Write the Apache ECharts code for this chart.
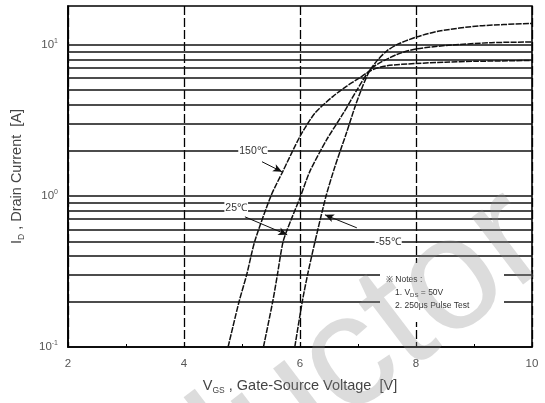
<!DOCTYPE html>
<html><head><meta charset="utf-8">
<script src="https://cdn.jsdelivr.net/npm/echarts/dist/echarts.min.js"></script>
<style>html,body{margin:0;padding:0;background:#fff;}#c{width:545px;height:403px;}</style>
</head><body><div id="c"></div>
<script>
// x ticks (V) and horizontal grid levels (A)
const xTicks = [2, 4, 6, 8, 10];
const gridLevels = [0.2,0.3,0.4,0.5,0.6,0.7,0.8,0.9,1,2,3,4,5,6,7,8,9,10];

// 150 C curve
const vgs150 = [4.76, 4.95, 5.08, 5.22, 5.5, 5.7, 6.0, 6.26, 6.57, 6.8, 7.02, 7.24, 7.5, 8.0, 8.5, 9.0, 10];
const id150  = [0.1, 0.2, 0.3, 0.5, 1.0, 1.44, 2.47, 3.53, 4.55, 5.3, 6.0, 6.8, 7.25, 7.5, 7.65, 7.75, 7.85];
// 25 C curve
const vgs25 = [5.37, 5.53, 5.61, 5.71, 5.85, 6.0, 6.17, 6.46, 6.75, 6.98, 7.24, 7.67, 8.0, 8.5, 9.3, 10];
const id25  = [0.1, 0.2, 0.3, 0.5, 0.7, 0.97, 1.45, 2.35, 3.53, 5.0, 7.0, 8.6, 9.35, 9.85, 10.3, 10.4];
// -55 C curve
const vgs55 = [5.91, 6.04, 6.13, 6.26, 6.45, 6.6, 6.8, 6.95, 7.08, 7.2, 7.35, 7.5, 7.67, 8.0, 8.4, 9.1, 10];
const id55  = [0.1, 0.2, 0.3, 0.5, 1.0, 1.55, 2.6, 3.9, 5.3, 6.7, 8.0, 9.1, 10.0, 11.2, 12.3, 13.3, 13.8];

const curveNames = ['150℃', '25℃', '-55℃'];

const FONT = 'Liberation Sans, Arial, sans-serif';
const curveStyle = {color:'#111', width:1.5, type:[6,1.2]};
function curve(name, xs, ys){
  return {name, type:'line', data: xs.map((x,k)=>[x, ys[k]]), smooth:0.25,
    symbol:'none', lineStyle: curveStyle, z:4, silent:true};
}

const chart = echarts.init(document.getElementById('c'), null, {renderer:'canvas'});
const option = {
  backgroundColor:'#fff',
  animation:false,
  grid:{left:68, right:13, top:6, bottom:56, show:true, borderColor:'#000', borderWidth:1.6, backgroundColor:'transparent'},
  xAxis:{
    type:'value', min:2, max:10, interval:2,
    axisLine:{show:true, lineStyle:{color:'#000', width:1.6}},
    axisTick:{show:false, inside:true},
    minorTick:{show:true, splitNumber:2, length:3, lineStyle:{color:'#000', width:1}},
    axisLabel:{color:'#555', fontSize:11.5, fontFamily:FONT, margin:11},
    splitLine:{show:true, lineStyle:{color:'#000', width:1.3, type:[9,3]}},
    name:'{n|V}{s|GS}{n| , Gate-Source Voltage  [V]}',
    nameLocation:'middle', nameGap:30,
    nameTextStyle:{fontFamily:FONT, color:'#444', rich:{
      n:{fontSize:14.5, color:'#444', fontFamily:FONT},
      s:{fontSize:8.5, color:'#444', fontFamily:FONT, padding:[9,0,0,0]}}}
  },
  yAxis:{
    type:'log', logBase:10, min:0.1, max:18,
    axisLine:{show:true, lineStyle:{color:'#000', width:1.6}},
    axisTick:{show:false},
    splitLine:{show:false},
    axisLabel:{margin:10, fontFamily:FONT,
      formatter: v => {
        const e = Math.round(Math.log10(v));
        if (Math.abs(v - Math.pow(10, e)) > 1e-6 * Math.pow(10, e)) return '';
        return '{b|10}{s|' + e + '}';
      },
      rich:{
        b:{fontSize:11.5, color:'#555', fontFamily:FONT},
        s:{fontSize:7, color:'#555', fontFamily:FONT, verticalAlign:'top', padding:[0,0,7,0]}
      }
    },
    name:'{n|I}{s|D}{n| , Drain Current  [A]}',
    nameLocation:'middle', nameGap:42,
    nameTextStyle:{fontFamily:FONT, color:'#444', rich:{
      n:{fontSize:14.5, color:'#444', fontFamily:FONT},
      s:{fontSize:8.5, color:'#444', fontFamily:FONT, padding:[9,0,0,0]}}}
  },
  series:[
    {
      name:'grid', type:'line', data:[], silent:true, z:2,
      markLine:{silent:true, symbol:['none','none'], animation:false,
        lineStyle:{color:'#111', width:1.5, type:'solid'}, label:{show:false},
        data: gridLevels.map(v => ({yAxis:v}))}
    },
    curve(curveNames[0], vgs150, id150),
    curve(curveNames[1], vgs25, id25),
    curve(curveNames[2], vgs55, id55),
    {
      name:'annot', type:'line', data:[], silent:true, z:6,
      markLine:{silent:true, animation:false, symbol:['none','arrow'], symbolSize:[6,9],
        lineStyle:{color:'#111', width:1, type:'solid'}, label:{show:false},
        data:[
          [{coord:[5.345,1.68]},{coord:[5.69,1.44]}],
          [{coord:[5.05,0.726]},{coord:[5.78,0.552]}],
          [{coord:[6.98,0.614]},{coord:[6.43,0.748]}]
        ]},
      markPoint:{silent:true, animation:false, symbol:'rect', symbolSize:1, z:10,
        itemStyle:{color:'rgba(0,0,0,0)'},
        label:{show:true, position:'inside', formatter: p => p.name, color:'#333', fontSize:10.5,
          fontFamily:FONT, backgroundColor:'#fff', padding:[1,1]},
        data:[
          {name:curveNames[0], coord:[5.19,1.96]},
          {name:curveNames[1], coord:[4.9,0.83]},
          {name:curveNames[2], coord:[7.52,0.495]}
        ]}
    }
  ],
  graphic:[
    {type:'rect', z:100, shape:{x:380, y:263, width:124, height:59}, style:{fill:'#fff'}},
    {type:'text', z:101, left:386, top:275, style:{text:'※ Notes :', fontSize:8.5, fill:'#333', fontFamily:FONT}},
    {type:'text', z:101, left:395, top:288, style:{text:'{n|1. V}{s|DS}{n| = 50V}', fontFamily:FONT,
      rich:{n:{fontSize:8.5, fill:'#333', fontFamily:FONT}, s:{fontSize:6, fill:'#333', fontFamily:FONT, padding:[5,0,0,0]}}}},
    {type:'text', z:101, left:395, top:301, style:{text:'2. 250μs Pulse Test', fontSize:8.5, fill:'#333', fontFamily:FONT}},
    {type:'text', z:120, x:530, y:224, rotation:0.65, silent:true,
      style:{text:'Semiconductor', fontSize:160, fontFamily:FONT, fill:'rgba(140,140,140,0.3)',
        align:'right', verticalAlign:'middle'}}
  ]
};
chart.setOption(option);
</script>
</body></html>
